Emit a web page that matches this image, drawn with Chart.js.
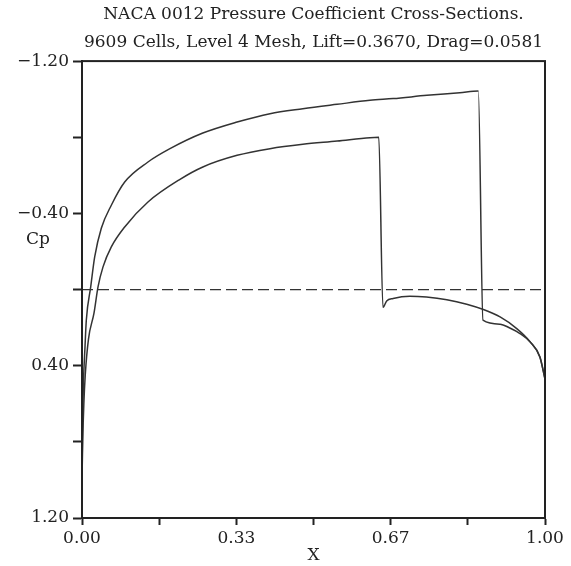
<!DOCTYPE html>
<html>
<head>
<meta charset="utf-8">
<script src="https://cdn.jsdelivr.net/npm/chart.js@4/dist/chart.umd.min.js"></script>
<style>
  html, body { margin: 0; padding: 0; background: #ffffff; }
  #wrap { width: 571px; height: 566px; }
</style>
</head>
<body>
<div id="wrap"><canvas id="c" width="571" height="566"></canvas></div>
<script>
// ---- data ----
const titleLines = [
  "NACA 0012 Pressure Coefficient Cross-Sections.",
  "9609 Cells, Level 4 Mesh, Lift=0.3670, Drag=0.0581"
];
const xTickValues = [0, 1/6, 1/3, 1/2, 2/3, 5/6, 1];
const xTickLabels = ["0.00", "", "0.33", "", "0.67", "", "1.00"];
const yTickValues = [-1.2, -0.8, -0.4, 0, 0.4, 0.8, 1.2];
const yTickLabels = ["\u22121.20", "", "\u22120.40", "", "0.40", "", "1.20"];

const upperX  = [0, 0.001, 0.003, 0.0065, 0.0093, 0.0188, 0.0274, 0.0417, 0.0633, 0.0922, 0.1425, 0.190, 0.261, 0.335, 0.406, 0.477, 0.551, 0.622, 0.672, 0.745, 0.816, 0.856, 0.866, 0.903, 0.924, 0.946, 0.968, 0.989, 1.0];
const upperCp = [1.0, 0.75, 0.5, 0.3, 0.161, -0.014, -0.171, -0.322, -0.443, -0.565, -0.670, -0.740, -0.822, -0.880, -0.924, -0.950, -0.973, -0.994, -1.003, -1.020, -1.034, -1.043, 0.161, 0.182, 0.202, 0.231, 0.275, 0.354, 0.47];

const lowerX  = [0, 0.0015, 0.004, 0.007, 0.014, 0.0259, 0.0346, 0.0454, 0.0633, 0.0922, 0.1425, 0.2117, 0.261, 0.335, 0.406, 0.477, 0.551, 0.622, 0.641, 0.650, 0.658, 0.672, 0.708, 0.744, 0.788, 0.831, 0.867, 0.903, 0.939, 0.968, 0.989, 1.0];
const lowerCp = [1.0, 0.8, 0.6, 0.45, 0.26, 0.124, -0.014, -0.119, -0.224, -0.329, -0.460, -0.579, -0.644, -0.705, -0.740, -0.763, -0.780, -0.798, -0.800, 0.094, 0.06, 0.047, 0.035, 0.039, 0.053, 0.077, 0.105, 0.144, 0.205, 0.275, 0.354, 0.47];

const refX  = [0, 1];
const refCp = [0, 0];

const xTitle = "X";
const yTitle = "Cp";

// ---- build ----
const pts = (xs, ys) => xs.map((x, i) => ({ x: x, y: ys[i] }));
const ink = "#333333";
const serif = "'DejaVu Serif', 'Liberation Serif', serif";

const framePlugin = {
  id: 'frame',
  afterDraw(chart) {
    const { ctx, chartArea: a } = chart;
    ctx.save();
    ctx.strokeStyle = "#222222";
    ctx.lineWidth = 2;
    ctx.strokeRect(a.left, a.top, a.right - a.left, a.bottom - a.top);
    // horizontal y-axis title
    ctx.fillStyle = "#222222";
    ctx.font = "17px " + serif;
    ctx.textAlign = "center";
    ctx.textBaseline = "middle";
    ctx.fillText(yTitle, 38, 240);
    ctx.restore();
  }
};

const lineStyle = { borderColor: ink, borderWidth: 1.5, pointRadius: 0, cubicInterpolationMode: 'monotone', fill: false };

new Chart(document.getElementById('c'), {
  type: 'line',
  data: {
    datasets: [
      Object.assign({ data: pts(upperX, upperCp) }, lineStyle),
      Object.assign({ data: pts(lowerX, lowerCp) }, lineStyle),
      { data: pts(refX, refCp), borderColor: ink, borderWidth: 1.2, borderDash: [11, 5], pointRadius: 0, tension: 0, fill: false }
    ]
  },
  plugins: [framePlugin],
  options: {
    responsive: false,
    animation: false,
    events: [],
    layout: { padding: { top: 0, right: 26, bottom: 0, left: 0 } },
    plugins: {
      legend: { display: false },
      tooltip: { enabled: false },
      title: {
        display: true,
        fullSize: false,
        text: titleLines,
        color: "#222222",
        font: { family: serif, size: 17, weight: 'normal', lineHeight: 1.65 },
        padding: { top: 1, bottom: 4 }
      }
    },
    scales: {
      x: {
        type: 'linear',
        min: 0, max: 1,
        afterBuildTicks(scale) { scale.ticks = xTickValues.map(v => ({ value: v })); },
        afterFit(scale) { scale.height = 48; },
        ticks: {
          autoSkip: false, maxRotation: 0,
          color: "#222222",
          font: { family: serif, size: 17 },
          padding: 3,
          callback(value, index) { return xTickLabels[index]; }
        },
        grid: { drawOnChartArea: false, drawTicks: true, tickLength: 7, tickWidth: 2, color: "#222222" },
        border: { display: true, color: "#222222", width: 2 },
        title: { display: true, text: xTitle, color: "#222222", font: { family: serif, size: 17 }, padding: { top: 0, bottom: 0 } }
      },
      y: {
        type: 'linear',
        reverse: true,
        min: -1.2, max: 1.2,
        afterBuildTicks(scale) { scale.ticks = yTickValues.map(v => ({ value: v })); },
        afterFit(scale) { scale.width = 82; },
        ticks: {
          autoSkip: false,
          color: "#222222",
          font: { family: serif, size: 17 },
          padding: 4,
          callback(value, index) { return yTickLabels[index]; }
        },
        grid: { drawOnChartArea: false, drawTicks: true, tickLength: 9, tickWidth: 2, color: "#222222" },
        border: { display: true, color: "#222222", width: 2 }
      }
    }
  }
});
</script>
</body>
</html>
